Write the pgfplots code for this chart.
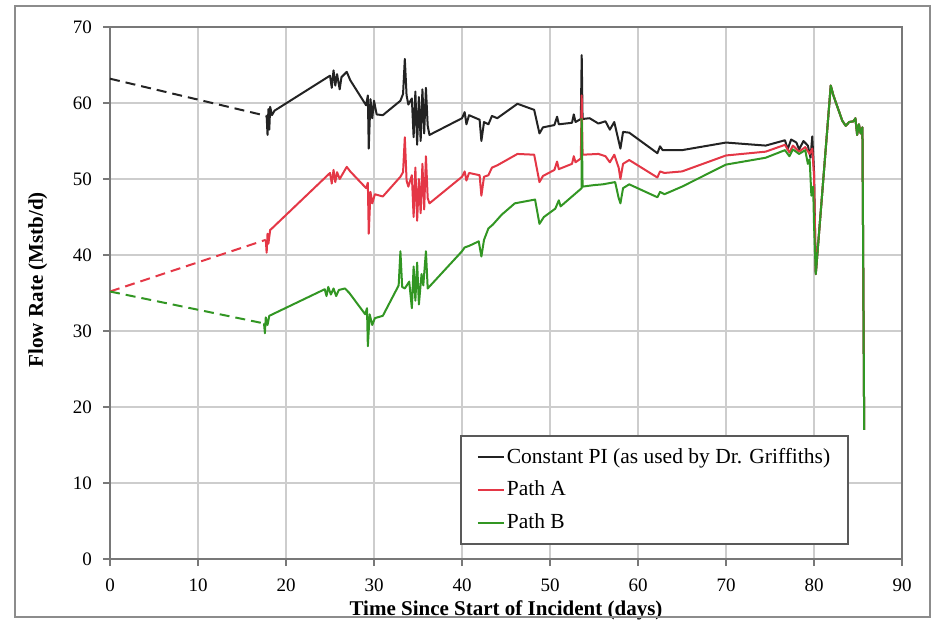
\documentclass[border=0pt]{standalone}
\usepackage{pgfplots}
\pgfplotsset{compat=1.18}
\usepackage{fontspec}
\setmainfont{Liberation Serif}
\definecolor{cblack}{RGB}{35,35,35}
\definecolor{cred}{RGB}{228,55,70}
\definecolor{cgreen}{RGB}{50,150,35}
\definecolor{cgrid}{RGB}{205,205,205}
\definecolor{cframe}{RGB}{120,120,120}
\begin{document}
\begin{tikzpicture}
\begin{axis}[
  width=396pt, height=266pt, scale only axis,
  xmin=0, xmax=90, ymin=0, ymax=70,
  xtick={0,10,...,90}, ytick={0,10,...,70},
  grid=major, major grid style={cgrid, line width=0.6pt},
  axis line style={cframe, line width=0.8pt},
  tick align=outside, major tick length=3.5pt,
  tick style={cframe, line width=0.6pt},
  xtick pos=bottom, ytick pos=left,
  ticklabel style={font=\fontsize{9.5}{10}\selectfont},
  /pgf/number format/assume math mode=true,
  xticklabel style={yshift=-3pt},
  yticklabel style={xshift=-2pt},
  xlabel={\bfseries Time Since Start of Incident (days)},
  ylabel={\bfseries Flow Rate (Mstb/d)},
  label style={font=\fontsize{10.5}{12}\selectfont},
  xlabel style={at={(rel axis cs:0.5,-0.097)}, anchor=center},
  ylabel style={at={(rel axis cs:-0.091,0.525)}, anchor=center},
  clip=false,
  legend image code/.code={\draw[#1] (0pt,0pt) -- (13pt,0pt);},
  legend cell align=left,
  legend style={at={(rel axis cs:0.442,0.233)}, anchor=north west,
    draw=black!65, line width=0.8pt, fill=white,
    font=\fontsize{10.75}{12}\selectfont,
    inner xsep=8pt, inner ysep=4pt, row sep=3.5pt,
    nodes={inner xsep=1pt},
    /tikz/every even column/.append style={column sep=0pt}},
  every axis plot/.append style={line width=1pt, line join=round},
]
% Constant PI
\addplot[cblack] coordinates {
(17.8,58.3)(17.9,55.8)(18.0,59.2)(18.1,56.5)(18.2,59.5)(18.4,58.4)(18.7,59.0)
(25.0,63.6)(25.2,62.0)(25.4,64.3)(25.6,62.3)(25.8,63.8)(26.1,61.8)(26.3,63.4)(26.9,64.1)(27.3,63.0)
(29.1,59.7)(29.3,61.0)(29.4,54.0)(29.6,60.5)(29.8,58.0)(30.0,60.3)(30.3,58.5)(31.0,58.4)
(33.0,60.3)(33.3,61.2)(33.5,65.8)(33.7,61.0)(33.9,59.8)(34.3,60.6)(34.5,55.5)(34.7,61.5)(34.9,54.5)
(35.1,60.8)(35.3,55.0)(35.5,61.8)(35.7,56.0)(35.9,62.0)(36.1,57.0)(36.3,55.8)
(40.0,58.0)(40.3,58.8)(40.5,57.2)(40.8,58.4)(42.0,57.8)(42.2,55.0)(42.5,57.5)(43.0,57.2)(43.4,58.3)(44.0,58.0)
(46.3,59.9)(48.2,59.1)(48.8,56.0)(49.2,56.8)(50.5,57.1)(50.8,58.2)(51.0,57.2)(52.5,57.4)(52.7,58.5)(52.9,57.5)
(53.5,57.9)(53.6,66.3)(53.7,57.9)(54.5,58.0)(55.5,57.3)(56.3,57.6)(56.8,56.5)(57.3,57.5)(57.8,55.0)(58.0,54.0)
(58.3,56.2)(59.0,56.1)(62.2,53.4)(62.5,54.3)(62.8,53.8)(65.0,53.8)(70.0,54.8)(74.5,54.4)(76.7,55.1)
(77.0,53.9)(77.4,55.2)(78.0,54.8)(78.3,53.9)(78.8,55.0)(79.3,54.4)(79.6,52.8)(79.8,55.6)(80.0,51.0)
(80.2,37.5)(81.9,62.3)(82.2,61.0)(83.2,57.7)(83.6,57.0)(84.0,57.5)(84.5,57.6)(84.7,58.0)(84.9,55.8)
(85.1,57.2)(85.3,56.0)(85.5,56.8)(85.7,17.0)
};
\addlegendentry{Constant PI (as used by Dr. Griffiths)}
% Path A
\addplot[cred] coordinates {
(17.7,42.0)(17.8,40.3)(17.9,42.8)(18.0,41.5)(18.2,43.3)(18.4,43.5)
(25.0,50.8)(25.2,49.4)(25.4,51.2)(25.6,49.6)(25.8,50.9)(26.1,50.0)(26.9,51.6)(27.3,51.0)
(29.1,48.8)(29.3,49.5)(29.4,42.8)(29.6,48.3)(29.8,46.8)(30.1,48.0)(31.0,47.7)
(33.0,50.3)(33.3,50.9)(33.5,55.5)(33.7,49.8)(33.9,49.0)(34.3,50.5)(34.5,45.0)(34.7,51.5)(34.9,44.5)
(35.1,50.0)(35.3,45.5)(35.5,52.0)(35.7,46.0)(35.9,53.0)(36.1,47.5)(36.3,46.8)
(40.0,50.3)(40.3,51.0)(40.5,49.8)(40.8,50.8)(42.0,50.5)(42.2,47.8)(42.5,50.3)(43.0,50.5)(43.4,51.5)(44.0,51.8)
(46.3,53.3)(48.2,53.2)(48.8,49.6)(49.2,50.4)(50.5,51.2)(50.8,52.3)(51.0,51.3)(52.5,52.0)(52.7,53.0)(52.9,52.2)
(53.5,52.7)(53.6,61.0)(53.7,53.2)(55.5,53.3)(56.3,53.0)(56.8,52.2)(57.3,53.2)(57.8,51.5)(58.0,50.0)
(58.3,52.0)(59.0,52.5)(62.2,50.2)(62.5,51.0)(63.0,50.8)(65.0,51.0)(70.0,53.1)(74.5,53.6)(76.7,54.5)
(77.2,53.5)(77.6,54.4)(78.3,53.6)(79.0,54.2)(79.5,53.3)(79.8,54.0)(80.0,50.5)
(80.2,37.5)(81.9,62.3)(82.2,61.0)(83.2,57.7)(83.6,57.0)(84.0,57.5)(84.5,57.6)(84.7,58.0)(84.9,55.8)
(85.1,57.2)(85.3,56.0)(85.5,56.8)(85.7,17.0)
};
\addlegendentry{Path A}
% Path B
\addplot[cgreen] coordinates {
(17.5,31.0)(17.6,29.7)(17.7,31.8)(17.9,30.8)(18.1,32.0)
(24.4,35.5)(24.6,34.6)(24.8,35.8)(25.1,34.8)(25.4,35.6)(25.7,34.6)(26.0,35.4)(26.7,35.6)(27.2,35.0)
(29.0,32.2)(29.2,33.0)(29.3,28.0)(29.5,32.2)(29.8,30.8)(30.1,31.7)(31.0,32.0)
(32.8,36.0)(33.0,40.5)(33.2,35.8)(33.5,35.6)(34.0,36.5)(34.3,33.0)(34.5,38.5)(34.7,34.0)(34.9,39.0)
(35.1,33.5)(35.4,37.5)(35.6,36.0)(35.9,40.5)(36.1,35.6)
(40.0,40.5)(40.3,41.0)(40.8,41.2)(41.9,41.8)(42.2,39.8)(42.5,42.0)(43.0,43.5)(43.5,44.0)(44.5,45.3)
(46.0,46.8)(48.3,47.3)(48.8,44.1)(49.3,45.0)(50.6,46.1)(51.0,47.2)(51.2,46.4)(53.4,48.6)(53.6,48.8)
(53.6,57.9)(53.7,49.0)(55.0,49.2)(56.0,49.3)(57.4,49.6)(57.8,47.5)(58.0,46.8)(58.3,48.8)(59.0,49.3)
(62.2,47.6)(62.5,48.3)(63.0,48.0)(65.0,49.0)(70.0,51.9)(74.5,52.8)(76.7,53.8)(77.2,53.0)(77.6,53.9)
(78.3,53.3)(79.0,53.8)(79.3,52.0)(79.5,52.6)(79.7,47.8)(79.9,49.0)(80.0,44.0)
(80.2,37.5)(81.9,62.3)(82.2,61.0)(83.2,57.7)(83.6,57.0)(84.0,57.5)(84.5,57.6)(84.7,58.0)(84.9,55.8)
(85.1,57.2)(85.3,56.0)(85.5,56.8)(85.7,17.0)
};
\addlegendentry{Path B}
% dashed extrapolations
\addplot[cblack, dash pattern=on 5pt off 3pt, forget plot] coordinates {(0,63.2)(17.8,58.3)};
\addplot[cred, dash pattern=on 5pt off 3pt, forget plot] coordinates {(0,35.2)(17.7,42.0)};
\addplot[cgreen, dash pattern=on 5pt off 3pt, forget plot] coordinates {(0,35.2)(17.5,31.0)};
\coordinate (bbsw) at (rel axis cs:-0.1389,-0.1278);
\coordinate (bbne) at (rel axis cs:1.0429,1.0508);
\coordinate (frsw) at (rel axis cs:-0.1199,-0.109);
\coordinate (frne) at (rel axis cs:1.0354,1.0395);
\end{axis}
\draw[black!45, line width=0.8pt] (frsw) rectangle (frne);
\pgfresetboundingbox
\path[use as bounding box] (bbsw) rectangle (bbne);
\end{tikzpicture}
\end{document}
